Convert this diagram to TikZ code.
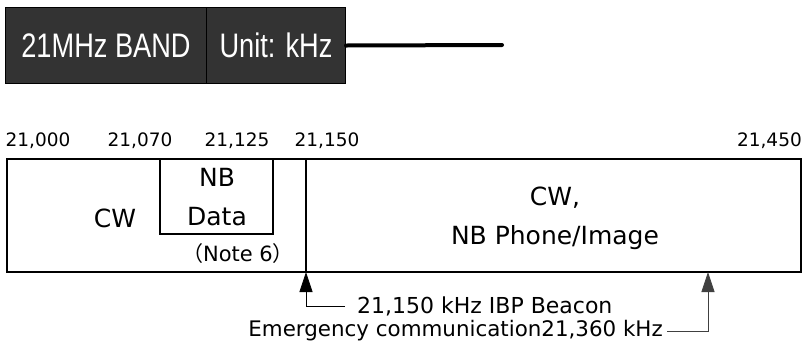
\documentclass[tikz,border=0pt]{standalone}
\usepackage{fontspec}
\setmainfont{DejaVu Sans}
\newfontfamily\hdrfont[FakeStretch=0.8]{Liberation Sans}
\newfontfamily\cjkfont{Noto Sans CJK JP}
\usetikzlibrary{arrows.meta}
\definecolor{hdr}{HTML}{333333}
\tikzset{
  hdrbox/.style={draw=black, line width=1pt, fill=hdr, text=white, font=\hdrfont\fontsize{34}{36}\selectfont, inner sep=0pt},
  band/.style={draw=black, line width=1.2pt},
  freq/.style={font=\fontsize{18.5}{20}\selectfont, inner sep=0pt},
  lbl/.style={font=\fontsize{25}{28}\selectfont, align=center, inner sep=0pt},
  note/.style={font=\fontsize{22}{24}\selectfont, inner sep=0pt},
  marker/.style={line width=0.8pt, -{Triangle[length=20pt,width=13pt]}},
}
\begin{document}
\begin{tikzpicture}[x=1pt,y=-1pt]
\useasboundingbox (0,0) rectangle (804,349);
% header
\node[hdrbox, minimum width=201pt, minimum height=76pt, anchor=north west] (band) at (5,7) {21MHz BAND};
\node[hdrbox, minimum width=139pt, minimum height=76pt, anchor=north west] (unit) at (206,7) {Unit: kHz};
\coordinate (lineend) at (502,45);
\draw[line width=4pt, line cap=round] (unit.east) -- (lineend);
% frequency labels
\node[freq] (f0) at (38,141) {21,000};
\node[freq] (f1) at (140,141) {21,070};
\node[freq] (f2) at (237,141) {21,125};
\node[freq] (f3) at (327,141) {21,150};
\node[freq, anchor=east] (f4) at (802,141) {21,450};
% band segments
\coordinate (tl) at (7,159);
\coordinate (br) at (801,272);
\draw[band] (tl) rectangle (br);
\coordinate (divtop) at (306,159);
\coordinate (divbot) at (306,272);
\draw[band] (divtop) -- (divbot);
\draw[band] (160,159) -- (160,234) -- (273,234) -- (273,159);
\node[lbl] (cw) at (115,218) {CW};
\node[lbl] (nb) at (217,177) {NB};
\node[lbl] (data) at (217,217) {Data};
\node[note, font=\fontsize{21}{24}\selectfont] (note) at (238,254) {{\cjkfont（}Note 6{\cjkfont）}};
\node[lbl] (cw2) at (555,198) {CW,};
\node[lbl] (phone) at (555,238) {NB Phone/Image};
% markers
\node[note, anchor=west] (ibp) at (357,306) {21,150 kHz IBP Beacon};
\node[note, anchor=east, font=\fontsize{21.4}{24}\selectfont] (emg) at (663,331) {Emergency communication21,360 kHz};
\coordinate (m2) at (708,272);
\draw[marker] (ibp.west) ++(-12,0) -- (306,306) -- (divbot);
\draw[marker, draw=black!75] (emg.east) ++(4,0) -- (708,331) -- (m2);
\end{tikzpicture}
\end{document}
